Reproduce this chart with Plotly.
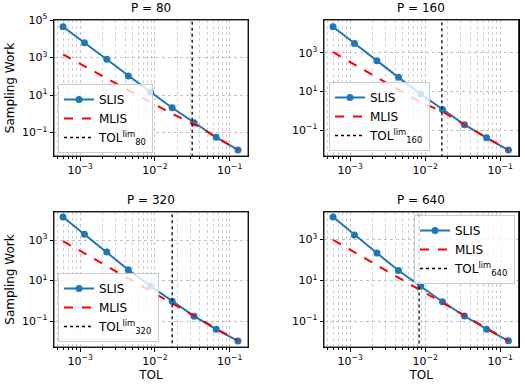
import plotly.graph_objects as go
from plotly.subplots import make_subplots

# tolerances (same for every P)
tol = [5.9e-4, 1.14e-3, 2.27e-3, 4.4e-3, 8.7e-3, 1.7e-2, 3.34e-2, 6.6e-2, 0.129]

p_values = [80, 160, 320, 640]

slis_80 = [44000, 6200, 800, 104, 14.5, 2.1, 0.33, 0.056, 0.0118]
slis_160 = [22000, 3000, 385, 53, 7.3, 1.17, 0.19, 0.040, 0.0093]
slis_320 = [13700, 1900, 260, 34, 5.4, 0.97, 0.177, 0.040, 0.0107]
slis_640 = [12400, 1630, 215, 30, 5.1, 0.90, 0.18, 0.041, 0.011]

mlis_80 = [1480, 340, 78, 18, 4.2, 1.0, 0.28, 0.056, 0.0118]
mlis_160 = [1070, 240, 54, 12, 2.8, 0.9, 0.19, 0.040, 0.0093]
mlis_320 = [890, 216, 52, 12.7, 3.1, 0.75, 0.177, 0.042, 0.0107]
mlis_640 = [955, 231, 56, 13.5, 3.25, 0.79, 0.18, 0.043, 0.011]

tol_lim = [0.0315, 0.0167, 0.017, 0.0083]

slis_all = [slis_80, slis_160, slis_320, slis_640]
mlis_all = [mlis_80, mlis_160, mlis_320, mlis_640]

# axis ranges (log10)
x_range = [-3.35, -0.755]
y_ranges = [[-2.25, 5.0], [-2.34, 4.69], [-2.27, 4.38], [-2.26, 4.34]]

x_ticks = [1e-3, 1e-2, 1e-1]
x_ticktext = ["10<sup>\u22123</sup>", "10<sup>\u22122</sup>", "10<sup>\u22121</sup>"]
y_ticks = [1e-1, 1e1, 1e3, 1e5]
y_ticktext = ["10<sup>\u22121</sup>", "10<sup>1</sup>", "10<sup>3</sup>", "10<sup>5</sup>"]
x_minor = [m * 10 ** e for e in range(-4, 0) for m in range(2, 10)]

W, H = 525, 386
font = "DejaVu Sans"

fig = make_subplots(rows=2, cols=2)

# pixel boxes of the panels: (left, right, top, bottom)
boxes = [(54, 248, 20, 156), (324, 518.5, 20, 156),
         (54, 248, 212, 347), (324, 518.5, 212, 347)]

legend_pos = [
    dict(x=58 / W, y=1 - 153 / H, xanchor="left", yanchor="bottom"),
    dict(x=329 / W, y=1 - 151 / H, xanchor="left", yanchor="bottom"),
    dict(x=58 / W, y=1 - 342 / H, xanchor="left", yanchor="bottom"),
    dict(x=515 / W, y=1 - 215 / H, xanchor="right", yanchor="top"),
]

for i, p in enumerate(p_values):
    row, col = i // 2 + 1, i % 2 + 1
    leg = "legend" if i == 0 else "legend%d" % (i + 1)
    fig.add_trace(go.Scatter(
        x=tol, y=slis_all[i], mode="lines+markers", name="SLIS",
        line=dict(color="#1f77b4", width=2),
        marker=dict(color="#1f77b4", size=7),
        legend=leg,
    ), row=row, col=col)
    fig.add_trace(go.Scatter(
        x=tol, y=mlis_all[i], mode="lines", name="MLIS",
        line=dict(color="red", width=2, dash="dash"),
        legend=leg,
    ), row=row, col=col)
    yr = y_ranges[i]
    fig.add_trace(go.Scatter(
        x=[tol_lim[i], tol_lim[i]], y=[10 ** (yr[0] - 1), 10 ** (yr[1] + 1)],
        mode="lines", name="TOL<sup>lim</sup><sub>%d</sub>" % p,
        line=dict(color="black", width=1.3, dash="dot"),
        legend=leg,
    ), row=row, col=col)

    l, r, t, b = boxes[i]
    sfx = "" if i == 0 else str(i + 1)
    xa, ya = "xaxis" + sfx, "yaxis" + sfx
    fig.update_layout({
        xa: dict(
            type="log", range=x_range, domain=[l / W, r / W], automargin=False,
            tickvals=x_ticks, ticktext=x_ticktext,
            showline=True, linecolor="black", linewidth=1, mirror=True,
            ticks="outside", ticklen=3.5, tickcolor="black",
            showgrid=True, gridcolor="#c4c4c4", gridwidth=0.8, griddash="dot",
            minor=dict(tickmode="array", tickvals=x_minor, ticks="outside",
                       ticklen=2, tickcolor="black", showgrid=True,
                       gridcolor="#d0d0d0", gridwidth=0.6, griddash="dot"),
            zeroline=False, tickfont=dict(size=11, color="black"),
            title=dict(text="TOL" if row == 2 else "", font=dict(size=12, color="black"),
                       standoff=2),
        ),
        ya: dict(
            type="log", range=yr, domain=[1 - b / H, 1 - t / H], automargin=False,
            tickvals=y_ticks, ticktext=y_ticktext,
            showline=True, linecolor="black", linewidth=1, mirror=True,
            ticks="outside", ticklen=3.5, tickcolor="black",
            showgrid=True, gridcolor="#c4c4c4", gridwidth=0.8, griddash="dot",
            zeroline=False, tickfont=dict(size=11, color="black"),
            title=dict(text="Sampling Work" if col == 1 else "",
                       font=dict(size=12, color="black"), standoff=4),
        ),
        leg: dict(
            **legend_pos[i],
            bgcolor="rgba(255,255,255,0.8)", bordercolor="#cccccc", borderwidth=1,
            font=dict(size=12, color="black", family=font),
            tracegroupgap=0, itemwidth=30,
        ),
    })
    # axes frame
    fig.add_shape(type="rect", xref="x%s domain" % sfx, yref="y%s domain" % sfx,
                  x0=0, x1=1, y0=0, y1=1, line=dict(color="#333333", width=1),
                  layer="above")
    fig.add_annotation(
        text="P = %d" % p, xref="paper", yref="paper",
        x=(l + r) / 2 / W, y=1 - (t - 3) / H, xanchor="center", yanchor="bottom",
        showarrow=False, font=dict(size=12, color="black"),
    )

fig.update_layout(
    width=W, height=H,
    margin=dict(l=0, r=0, t=0, b=0),
    plot_bgcolor="white", paper_bgcolor="white",
    font=dict(family=font, size=11, color="black"),
    showlegend=True,
)

fig.write_html("out.html", config={"displayModeBar": False},
               post_script="document.body.style.margin='0';")
